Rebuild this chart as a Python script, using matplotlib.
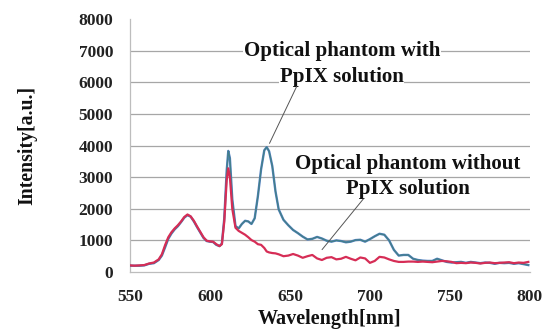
import matplotlib
matplotlib.use("Agg")
import matplotlib.pyplot as plt

plt.rcParams['font.family'] = ['Liberation Serif', 'DejaVu Serif']
plt.rcParams['font.weight'] = 'bold'

# Emission spectra, sampled on a shared wavelength grid [nm]
wavelength = [550, 553, 556, 559, 562, 565, 568, 570, 572, 574, 576, 578, 580, 582, 584,
              586, 588, 590, 592, 594, 596, 598, 600, 602, 604, 606, 607.5, 609, 610.5,
              611.5, 612.5, 614, 616, 618, 620, 622, 624, 626, 628, 630, 632, 634, 635.5,
              637, 639, 641, 643, 646, 649, 652, 655, 658, 661, 664, 667, 670, 673, 676,
              679, 682, 685, 688, 691, 694, 697, 700, 703, 706, 709, 712, 715, 718, 721,
              724, 727, 730, 733, 736, 739, 742, 745, 748, 751, 754, 757, 760, 763, 766,
              769, 772, 775, 778, 781, 784, 787, 790, 793, 796, 799]

with_ppix = [200, 200, 200, 210, 260, 280, 380, 520, 780, 1050, 1220, 1350, 1450, 1580, 1720,
             1800, 1750, 1600, 1420, 1250, 1080, 980, 960, 950, 860, 820, 900, 1700, 3200,
             3830, 3600, 2300, 1450, 1380, 1520, 1620, 1600, 1520, 1700, 2400, 3250, 3850, 3950,
             3820, 3350, 2550, 1980, 1650, 1480, 1330, 1230, 1120, 1030, 1050, 1110, 1060, 990, 960,
             1000, 980, 940, 960, 1010, 1020, 960, 1040, 1130, 1210, 1180, 1000, 700, 520, 540,
             540, 420, 380, 360, 350, 350, 420, 370, 320, 300, 310, 320, 290, 320, 300,
             280, 300, 290, 260, 290, 280, 290, 260, 280, 250, 220]

without_ppix = [210, 200, 210, 220, 270, 300, 400, 560, 850, 1100, 1260, 1380, 1480, 1600, 1740,
                1820, 1760, 1620, 1440, 1270, 1100, 990, 970, 960, 880, 820, 880, 1600, 2900,
                3280, 3000, 2000, 1400, 1300, 1240, 1180, 1100, 1010, 960, 880, 860, 760, 650,
                620, 600, 590, 560, 500, 520, 570, 520, 450, 500, 540, 430, 380, 450, 470,
                400, 420, 480, 420, 370, 460, 430, 290, 350, 480, 460, 400, 350, 320, 320,
                330, 330, 320, 330, 320, 310, 330, 350, 340, 320, 280, 290, 280, 300, 290,
                270, 290, 300, 280, 290, 300, 310, 280, 300, 290, 320]

y_ticks = [0, 1000, 2000, 3000, 4000, 5000, 6000, 7000, 8000]
x_ticks = [550, 600, 650, 700, 750, 800]

fig = plt.figure(figsize=(5.48, 3.35), dpi=100)
ax = fig.add_axes([0.237, 0.188, 0.730, 0.755])

ax.plot(wavelength, with_ppix, color='#4f7fc2', lw=1.7, zorder=3)
ax.plot(wavelength, with_ppix, color='#3d7f66', lw=0.9, alpha=0.65, zorder=3)
ax.plot(wavelength, without_ppix, color='#d62d56', lw=1.6, zorder=4)

ax.set_xlim(550, 800)
ax.set_ylim(0, 8000)
ax.set_xticks(x_ticks)
ax.set_yticks(y_ticks)
ax.tick_params(length=0, labelsize=12.5, colors='#222222')
ax.tick_params(axis='y', pad=12)
ax.tick_params(axis='x', pad=12)

for y in y_ticks[1:-1]:
    ax.axhline(y, color='#a6a6a6', lw=0.9, zorder=1)

for side in ('top', 'right'):
    ax.spines[side].set_visible(False)
for side in ('left', 'bottom'):
    ax.spines[side].set_color('#bdbdbd')
    ax.spines[side].set_linewidth(0.9)

ax.set_xlabel('Wavelength[nm]', fontsize=14.5, fontweight='bold', color='#111111', labelpad=3)
ax.set_ylabel('Intensity[a.u.]', fontsize=14.2, fontweight='bold', color='#111111', labelpad=30)

box = dict(facecolor='white', edgecolor='none', pad=0.5)
txt = dict(fontsize=15, fontweight='bold', color='#111111', ha='center', va='center',
           bbox=box, zorder=2)
ax.text(682.5, 7000, 'Optical phantom with', **txt)
ax.text(682.5, 6170, 'PpIX solution', **txt)
ax.text(723.7, 3420, 'Optical phantom without', **txt)
ax.text(723.7, 2620, 'PpIX solution', **txt)

leader = dict(arrowstyle='-', color='#555555', lw=0.7)
ax.annotate('', xy=(636.5, 3990), xytext=(655, 5950), arrowprops=leader, zorder=6)
ax.annotate('', xy=(669, 640), xytext=(697, 2380), arrowprops=leader, zorder=6)

fig.savefig('out.png', dpi=100)
